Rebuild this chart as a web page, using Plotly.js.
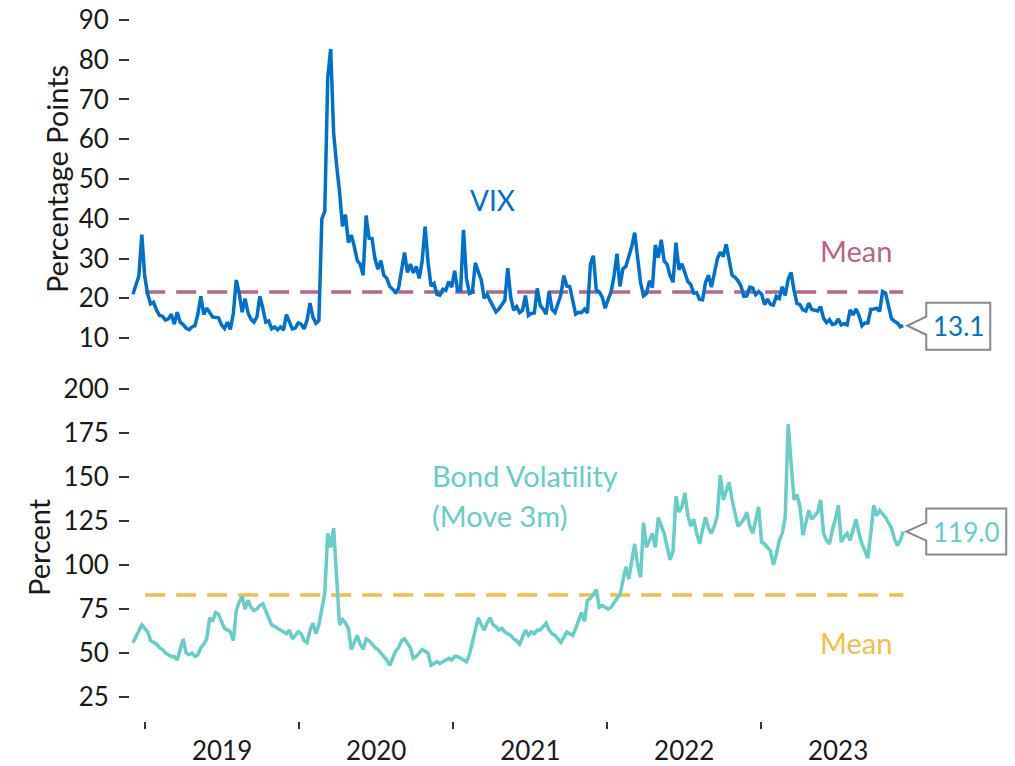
<!DOCTYPE html>
<html>
<head>
<meta charset="utf-8">
<script src="https://cdn.plot.ly/plotly-3.0.1.min.js"></script>
<style>html,body{margin:0;padding:0;background:#fff;}#chart{width:1015px;height:766px;}</style>
</head>
<body>
<div id="chart"></div>
<script>
// ---- Data (weekly readings, first week 2018-12-03) ----
const startDate = "2018-12-03";
const vix = [
21,23,25.6,36,25.4,21,18.6,19,17,15.7,15.5,14.5,14.8,16,13.5,16.5,14,13.4,12.5,12.1,
12.8,13.1,16,20.5,15.9,17.5,16.5,15.3,15.2,15.1,13.3,12.4,14,12.2,16.1,24.6,21.2,16.5,19.9,16.3,
14.7,14,15.3,20.5,17.5,14,14.3,12.3,12.8,12.1,12.8,12,15.9,13.9,12.3,12.5,13.8,13.5,12.3,14.5,
18.8,15.2,13.7,14.4,40,41.9,75.5,82.7,61.6,53.5,46.8,38.1,41,34,35.9,33,29.5,28.6,25.8,40.8,
35.1,35,30,27.3,29.5,25.8,25,23,22.3,21.5,22.5,26.6,31.5,26.5,28.6,26.4,28,25,29.4,38,
29,23.1,23.7,21,20.8,22.3,22,24.2,22.8,26.9,22,21.9,37.2,25,21.2,21.5,28.9,26.7,24.7,20,
21,19.4,17.9,16.6,17.3,18.6,19.5,27.6,20.2,17,17.9,16.4,17,20.7,15.7,16.2,16.3,22.5,18.2,17.3,
16,21.7,17.2,16.4,18.8,20.9,25.7,23.1,22.9,19.9,16,16.5,16.4,17.3,16.3,28.6,30.7,22,21.6,20.3,
17.5,19.7,21.6,25.6,31.2,23,27.4,28,30.3,33,36.5,30.8,23.9,20.6,21.2,24.4,22.7,33.4,30.2,34.7,
29.4,28.5,25.7,24,34,27.2,28.7,26.5,24.2,23.5,21.3,21.4,19.7,19.6,24,25.8,22.8,26.3,29.9,31.6,
30.5,33.6,29.7,25.8,25.3,24.4,23.1,20.5,20.6,22.8,22.6,20.9,21.7,21.1,18.4,19.8,18.5,18.3,20.5,20,
22.9,20.7,24.8,26.5,22,18.7,18.4,17.1,16.8,18.8,17.2,17,16.8,17.9,15,13.9,14.6,13.4,13.6,14.8,
13.3,13.6,13.3,17.1,15.8,17.3,15.7,13.1,13.8,13.8,17.2,17.3,17.5,16.7,21.7,21.3,18.5,14.9,14.2,13.8,
12.8,13.1
];
const move = [
56,59,62,66,64,62,57,56,55,53,52,50,49,48,48,46,52,58,50,49,
50,48,49,53,55,58,70,68,73,72,68,64,63,62,57,74,79,82,75,80,
76,74,75,77,78,74,71,66,65,64,63,62,61,63,58,60,62,61,57,56,
63,67,61,66,75,84,118,110,121,90,66,69,67,64,52,56,60,55,52,58,
57,55,53,52,50,48,46,43,47,51,53,57,58,55,53,47,48,50,52,51,
50,43,44,45,44,45,46,47,46,48,48,47,46,45,49,56,62,70,66,63,
67,70,66,65,63,64,62,61,60,58,57,55,59,63,60,62,61,63,63,65,
67,63,61,60,58,56,59,62,61,60,64,68,73,68,80,81,84,86,76,77,
76,75,76,79,81,83,90,99,92,103,112,100,93,124,110,114,118,110,127,122,
118,110,103,108,139,130,133,141,128,122,126,118,112,120,127,121,118,122,128,151,
137,142,147,137,130,122,124,126,130,122,118,126,133,113,112,110,108,100,106,114,
118,127,180,158,137,140,133,117,124,131,126,128,130,137,118,114,112,120,126,134,
113,116,118,114,120,126,118,112,108,104,118,134,128,131,129,127,124,121,115,111,
114,119
];
const vixMean = 21.6;
const moveMean = 83.0;
const meanStart = "2019-01-01";
const vixLast = "13.1";
const moveLast = "119.0";
const vixTicks = [10,20,30,40,50,60,70,80,90];
const moveTicks = [25,50,75,100,125,150,175,200];

// ---- Build dates ----
const DAY = 86400000;
const t0 = Date.parse(startDate + "T00:00:00Z");
const dates = vix.map((_, i) => new Date(t0 + i * 7 * DAY).toISOString().slice(0, 10));
const endDate = dates[dates.length - 1];

const FONT = "Lato, 'Open Sans', sans-serif";
const C_VIX = "#0070CE", C_VIXM = "#B5668A", C_MOVE = "#66CDC8", C_MOVEM = "#F2BE45";
const xr = ["2018-11-26", "2023-12-20"];
const yr1 = [8, 92], yr2 = [15, 205];
const H = 766 - 12 - 45;
const dom1 = [(721 - 346) / H, 1];
const dom2 = [(721 - 714.6) / H, (721 - 380.2) / H];
const xfrac = (Date.parse(endDate) - Date.parse(xr[0])) / (Date.parse(xr[1]) - Date.parse(xr[0]));
const yfrac = (v, r, d) => d[0] + (v - r[0]) / (r[1] - r[0]) * (d[1] - d[0]);
const vEnd = vix[vix.length - 1], mEnd = move[move.length - 1];

const traces = [
  {x: [meanStart, endDate], y: [vixMean, vixMean], xaxis: "x", yaxis: "y", mode: "lines",
   line: {color: C_VIXM, width: 3.5, dash: "20px,11px"}, hoverinfo: "skip"},
  {x: [meanStart, endDate], y: [moveMean, moveMean], xaxis: "x", yaxis: "y2", mode: "lines",
   line: {color: C_MOVEM, width: 3.5, dash: "20px,11px"}, hoverinfo: "skip"},
  {x: dates, y: vix, xaxis: "x", yaxis: "y", mode: "lines", line: {color: C_VIX, width: 3.5}, name: "VIX"},
  {x: dates, y: move, xaxis: "x", yaxis: "y2", mode: "lines", line: {color: C_MOVE, width: 3.5}, name: "Bond Volatility"}
];

const tickFont = {family: FONT, size: 26, color: "#1a1a1a"};
const titleFont = {family: FONT, size: 29, color: "#1a1a1a"};
const yCommon = {showgrid: false, zeroline: false, showline: false, ticks: "outside", ticklen: 10,
  tickwidth: 2, tickcolor: "#333", tickfont: tickFont, ticklabelstandoff: 5, anchor: "x", fixedrange: true};

const layout = {
  width: 1015, height: 766, showlegend: false,
  paper_bgcolor: "#fff", plot_bgcolor: "#fff",
  margin: {l: 130, r: 105, t: 12, b: 45},
  font: {family: FONT},
  xaxis: {type: "date", range: xr, anchor: "free", position: 0, showgrid: false, zeroline: false,
    showline: false, ticks: "outside", ticklen: 7, tickwidth: 2, tickcolor: "#333",
    ticklabelmode: "period", tickformat: "%Y", dtick: "M12", tick0: "2019-01-01",
    tickfont: tickFont, ticklabelstandoff: 0},
  yaxis: Object.assign({}, yCommon, {domain: dom1, range: yr1, tickvals: vixTicks,
    title: {text: "Percentage Points", font: titleFont, standoff: 1}}),
  yaxis2: Object.assign({}, yCommon, {domain: dom2, range: yr2, tickvals: moveTicks,
    title: {text: "Percent", font: titleFont, standoff: 4}}),
  shapes: [
    {type: "path", xref: "paper", yref: "paper", xsizemode: "pixel", ysizemode: "pixel",
     xanchor: xfrac, yanchor: yfrac(vEnd, yr1, dom1),
     path: "M 4,0 L 23,9 L 23,23 L 87,23 L 87,-24 L 23,-24 L 23,-9 Z", line: {color: "#888", width: 2}, fillcolor: "#fff"},
    {type: "path", xref: "paper", yref: "paper", xsizemode: "pixel", ysizemode: "pixel",
     xanchor: xfrac, yanchor: yfrac(mEnd, yr2, dom2),
     path: "M 3,0 L 23,9 L 23,23 L 103,23 L 103,-23 L 23,-23 L 23,-9 Z", line: {color: "#888", width: 2}, fillcolor: "#fff"}
  ],
  annotations: [
    {xref: "paper", yref: "y", x: xfrac, y: vEnd, xanchor: "center", yanchor: "middle", xshift: 55, text: vixLast, showarrow: false,
     font: {family: FONT, size: 26, color: C_VIX}},
    {xref: "paper", yref: "y2", x: xfrac, y: mEnd, xanchor: "center", yanchor: "middle", xshift: 63, text: moveLast, showarrow: false,
     font: {family: FONT, size: 26, color: C_MOVE}},
    {xref: "x", yref: "y", x: "2021-04-03", y: 44.7, text: "VIX", showarrow: false, font: {family: FONT, size: 28, color: C_VIX}},
    {xref: "x", yref: "y", x: "2023-08-13", y: 32.1, text: "Mean", showarrow: false, font: {family: FONT, size: 29, color: C_VIXM}},
    {xref: "x", yref: "y2", x: "2020-11-07", y: 150.6, xanchor: "left", text: "Bond Volatility", showarrow: false, font: {family: FONT, size: 29, color: C_MOVE}},
    {xref: "x", yref: "y2", x: "2020-11-07", y: 128.4, xanchor: "left", text: "(Move 3m)", showarrow: false, font: {family: FONT, size: 29, color: C_MOVE}},
    {xref: "x", yref: "y2", x: "2023-08-13", y: 56.2, text: "Mean", showarrow: false, font: {family: FONT, size: 29, color: C_MOVEM}}
  ]
};

Plotly.newPlot("chart", traces, layout, {staticPlot: true, displayModeBar: false});
</script>
</body>
</html>
